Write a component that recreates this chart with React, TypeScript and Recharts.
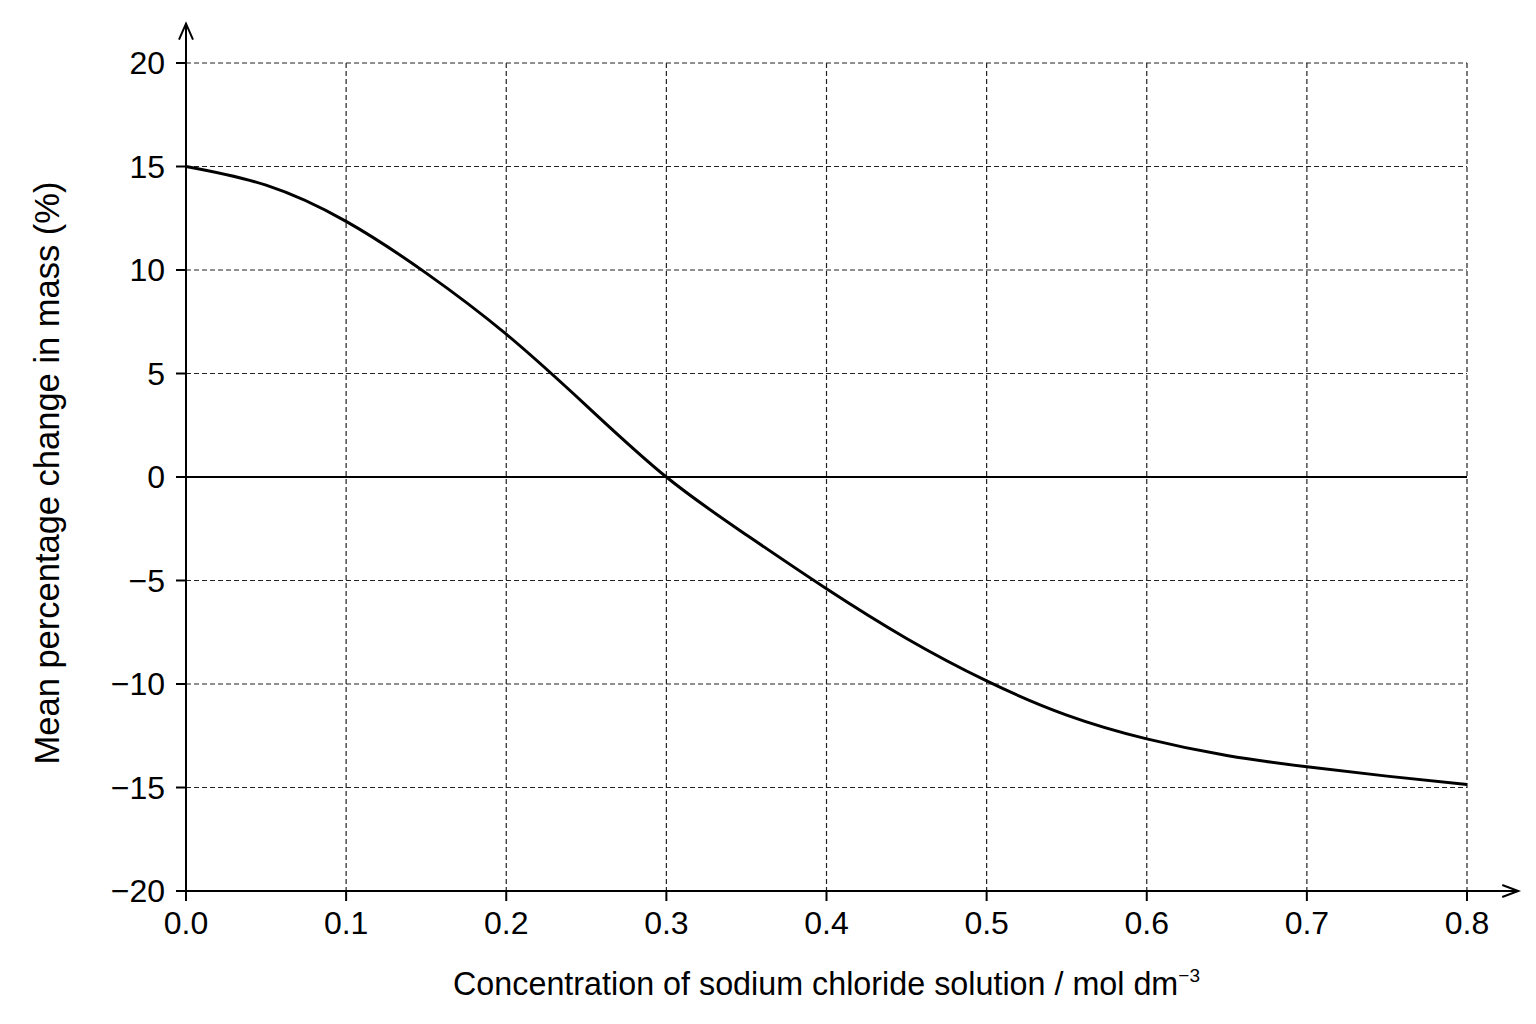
import { LineChart, Line, XAxis, YAxis, CartesianGrid, ReferenceLine, Label } from 'recharts'

// concentration (mol dm-3) and mean % change in mass
const concentrations = [0, 0.05, 0.1, 0.15, 0.2, 0.25, 0.3, 0.35, 0.4, 0.45, 0.5, 0.55, 0.6, 0.65, 0.7, 0.75, 0.8]
const massChange = [15, 14.1, 12.35, 9.85, 6.9, 3.45, 0, -2.8, -5.4, -7.8, -9.85, -11.5, -12.65, -13.45, -14.0, -14.45, -14.85]

const xTicks = [0, 0.1, 0.2, 0.3, 0.4, 0.5, 0.6, 0.7, 0.8]
const yTicks = [-20, -15, -10, -5, 0, 5, 10, 15, 20]

const FONT = '"Liberation Sans", Arial, Helvetica, sans-serif'

const data = concentrations.map((x, i) => ({ x, y: massChange[i] }))

const formatY = (v: number) => (v < 0 ? `\u2212${Math.abs(v)}` : `${v}`)

const XAxisLabel = (props: any) => {
  const { viewBox } = props
  const cx = viewBox.x + viewBox.width / 2
  return (
    <text x={cx} y={viewBox.y + 104} textAnchor="middle" fontSize={32.3} fill="#000" fontFamily={FONT}>
      Concentration of sodium chloride solution / mol dm
      <tspan dy={-13} fontSize={19}>{'\u22123'}</tspan>
    </text>
  )
}

const YAxisLabel = (props: any) => {
  const { viewBox } = props
  const x = viewBox.x + 59
  const y = viewBox.y + viewBox.height / 2 - 4
  return (
    <text x={x} y={y} textAnchor="middle" fontSize={34.5} fill="#000" fontFamily={FONT} transform={`rotate(-90 ${x} ${y})`}>
      Mean percentage change in mass (%)
    </text>
  )
}

// axis extension ending in an open arrowhead
const arrowShape = (dir: 'up' | 'right') => (props: any) => {
  const { x1, y1, x2, y2 } = props
  const head =
    dir === 'up'
      ? `M${x2 - 7},${y2 + 16} L${x2},${y2} L${x2 + 7},${y2 + 16}`
      : `M${x2 - 16},${y2 - 6} L${x2},${y2} L${x2 - 16},${y2 + 6}`
  return (
    <g>
      <line x1={x1} y1={y1} x2={x2} y2={y2} stroke="#000" strokeWidth={2} />
      <path d={head} fill="none" stroke="#000" strokeWidth={2} />
    </g>
  )
}

export default function App() {
  return (
    <div style={{ position: 'absolute', left: 0, top: 0, width: 1536, height: 1024, background: '#fff', fontFamily: FONT }}>
      <LineChart width={1536} height={1024} data={data} margin={{ top: 63, right: 69, left: 0, bottom: 13 }}>
        <CartesianGrid stroke="#222" strokeWidth={1.2} strokeDasharray="5 3" />
        <XAxis
          type="number"
          dataKey="x"
          domain={[0, 0.8]}
          ticks={xTicks}
          interval={0}
          tickFormatter={(v: number) => v.toFixed(1)}
          height={120}
          tickSize={10}
          tickMargin={10}
          axisLine={{ stroke: '#000', strokeWidth: 2 }}
          tickLine={{ stroke: '#000', strokeWidth: 2 }}
          tick={{ fontSize: 32, fill: '#000', fontFamily: FONT }}
        >
          <Label content={XAxisLabel} />
        </XAxis>
        <YAxis
          type="number"
          domain={[-20, 20]}
          ticks={yTicks}
          interval={0}
          tickFormatter={formatY}
          width={186}
          tickSize={10}
          tickMargin={11}
          axisLine={{ stroke: '#000', strokeWidth: 2 }}
          tickLine={{ stroke: '#000', strokeWidth: 2 }}
          tick={{ fontSize: 32, fill: '#000', fontFamily: FONT }}
        >
          <Label content={YAxisLabel} />
        </YAxis>
        <ReferenceLine y={0} stroke="#000" strokeWidth={2} />
        <ReferenceLine
          segment={[{ x: 0, y: 20 }, { x: 0, y: 21.9 }]}
          ifOverflow="visible"
          shape={arrowShape('up')}
        />
        <ReferenceLine
          segment={[{ x: 0.8, y: -20 }, { x: 0.832, y: -20 }]}
          ifOverflow="visible"
          shape={arrowShape('right')}
        />
        <Line
          type="natural"
          dataKey="y"
          stroke="#000"
          strokeWidth={3}
          dot={false}
          activeDot={false}
          isAnimationActive={false}
        />
      </LineChart>
    </div>
  )
}
